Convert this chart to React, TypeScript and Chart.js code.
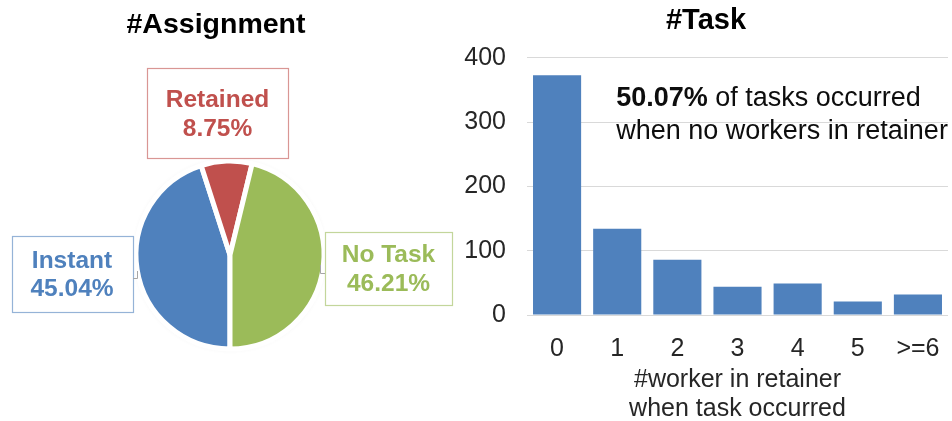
import React, { useEffect, useRef } from "react";
import { Chart, registerables } from "chart.js";

Chart.register(...registerables);

const FONT = "'Liberation Sans', Arial, sans-serif";

// Pie data
const pieLabels = ["Instant", "Retained", "No Task"];
const pieValues = [45.04, 8.75, 46.21];
const pieColors = ["#4F81BD", "#C0504D", "#9BBB59"];
const pieBoxBorders = ["#95B3D7", "#D99694", "#C3D69B"];

// Bar data
const barCategories = ["0", "1", "2", "3", "4", "5", ">=6"];
const barValues = [373, 134, 86, 44, 49, 21, 32];
const yTicks = [0, 100, 200, 300, 400];

const pieTitle = "#Assignment";
const barTitle = "#Task";
const xAxisTitle = ["#worker in retainer", "when task occurred"];
const noteBold = "50.07%";
const noteRest = " of tasks occurred";
const noteLine2 = "when no workers in retainer";

function PieChart() {
  const ref = useRef<HTMLCanvasElement>(null);
  useEffect(() => {
    const haloPlugin = {
      id: "halo",
      beforeDatasetsDraw(chart: any) {
        const arc = chart.getDatasetMeta(0).data[0];
        if (!arc) return;
        const { x, y } = arc;
        const ctx = chart.ctx;
        ctx.save();
        ctx.shadowColor = "rgba(0,0,0,0.35)";
        ctx.shadowBlur = 6;
        ctx.fillStyle = "#ffffff";
        ctx.beginPath();
        ctx.arc(x, y, arc.outerRadius - 2.5, 0, Math.PI * 2);
        ctx.fill();
        ctx.restore();
      },
    };
    const labelPlugin = {
      id: "calloutLabels",
      afterDraw(chart: any) {
        const meta = chart.getDatasetMeta(0);
        const arc = meta.data[0];
        if (!arc) return;
        const cx = arc.x;
        const cy = arc.y;
        const ctx = chart.ctx;
        ctx.save();
        ctx.fillStyle = "#000000";
        ctx.font = `bold 28.5px ${FONT}`;
        ctx.textAlign = "center";
        ctx.textBaseline = "middle";
        ctx.fillText(pieTitle, cx - 14, cy - 230);

        const boxes = [
          { i: 0, l: -218, t: -19, r: -97, b: 57, tx: -158, y1: 6, y2: 34 },
          { i: 1, l: -83, t: -187, r: 58, b: -97, tx: -12.5, y1: -155, y2: -126 },
          { i: 2, l: 95, t: -23, r: 222, b: 50, tx: 158.5, y1: 0, y2: 29 },
        ];
        for (const bx of boxes) {
          ctx.strokeStyle = pieBoxBorders[bx.i];
          ctx.lineWidth = 1.2;
          ctx.fillStyle = "#ffffff";
          ctx.fillRect(cx + bx.l, cy + bx.t, bx.r - bx.l, bx.b - bx.t);
          ctx.strokeRect(cx + bx.l + 0.5, cy + bx.t + 0.5, bx.r - bx.l, bx.b - bx.t);
          ctx.fillStyle = pieColors[bx.i];
          ctx.font = `bold 24.5px ${FONT}`;
          ctx.fillText(pieLabels[bx.i], cx + bx.tx, cy + bx.y1);
          ctx.fillText(pieValues[bx.i].toFixed(2) + "%", cx + bx.tx, cy + bx.y2);
        }
        ctx.lineWidth = 1;
        ctx.strokeStyle = "#A6A6A6";
        ctx.beginPath();
        ctx.moveTo(cx - 97, cy + 23.5);
        ctx.lineTo(cx - 92.5, cy + 23.5);
        ctx.lineTo(cx - 92.5, cy + 16);
        ctx.stroke();
        ctx.beginPath();
        ctx.moveTo(cx + 95, cy + 18.5);
        ctx.lineTo(cx + 90.5, cy + 18.5);
        ctx.lineTo(cx + 90.5, cy + 10);
        ctx.stroke();
        ctx.restore();
      },
    };
    const chart = new Chart(ref.current!, {
      type: "pie",
      data: {
        labels: pieLabels,
        datasets: [
          {
            data: pieValues,
            backgroundColor: pieColors,
            borderColor: "#ffffff",
            borderWidth: 5,
            radius: 94,
          },
        ],
      },
      options: {
        animation: false,
        responsive: false,
        rotation: 180,
        layout: { padding: { top: 89, bottom: 0, left: 0, right: 0 } },
        plugins: {
          legend: { display: false },
          tooltip: { enabled: false },
          title: { display: false },
        },
      },
      plugins: [haloPlugin, labelPlugin],
    });
    return () => chart.destroy();
  }, []);
  return <canvas ref={ref} width={460} height={421} />;
}

function BarChart() {
  const ref = useRef<HTMLCanvasElement>(null);
  useEffect(() => {
    const notePlugin = {
      id: "note",
      afterDraw(chart: any) {
        const xs = chart.scales.x;
        const ys = chart.scales.y;
        const ctx = chart.ctx;
        const x0 = xs.getPixelForValue(1) - 1;
        const y1 = ys.getPixelForValue(337);
        const y2 = ys.getPixelForValue(286);
        ctx.save();
        ctx.fillStyle = "#0d0d0d";
        ctx.textAlign = "left";
        ctx.textBaseline = "middle";
        ctx.font = `bold 27px ${FONT}`;
        ctx.fillText(noteBold, x0, y1);
        const w = ctx.measureText(noteBold).width;
        ctx.font = `27px ${FONT}`;
        ctx.fillText(noteRest, x0 + w, y1);
        ctx.fillText(noteLine2, x0, y2);
        ctx.restore();
      },
    };
    const chart = new Chart(ref.current!, {
      type: "bar",
      data: {
        labels: barCategories,
        datasets: [
          {
            data: barValues,
            backgroundColor: "#4F81BD",
            categoryPercentage: 0.8,
            barPercentage: 1.0,
          },
        ],
      },
      options: {
        animation: false,
        responsive: false,
        layout: { padding: { left: 4, right: 4, top: 0, bottom: -3 } },
        plugins: {
          legend: { display: false },
          tooltip: { enabled: false },
          title: {
            display: true,
            text: barTitle,
            color: "#000000",
            font: { family: FONT, size: 29, weight: "bold" },
            padding: { top: 4, bottom: 19 },
          },
        },
        scales: {
          y: {
            min: 0,
            max: 400,
            afterBuildTicks(scale: any) {
              scale.ticks = yTicks.map((v) => ({ value: v }));
            },
            afterFit(scale: any) {
              scale.width = 63;
            },
            ticks: {
              color: "#262626",
              font: { family: FONT, size: 25 },
              padding: 21,
            },
            grid: { color: "#D9D9D9", drawTicks: false, lineWidth: 1 },
            border: { display: false },
          },
          x: {
            afterFit(scale: any) {
              scale.height = 109;
              scale.paddingLeft = 0;
              scale.paddingRight = 0;
            },
            ticks: {
              color: "#262626",
              font: { family: FONT, size: 25 },
              padding: 19,
              maxRotation: 0,
            },
            grid: { display: false, drawTicks: false },
            border: { display: false },
            title: {
              display: true,
              text: xAxisTitle,
              color: "#262626",
              font: { family: FONT, size: 25, lineHeight: 1.16 },
              padding: { top: 2, bottom: 0 },
            },
          },
        },
      },
      plugins: [notePlugin],
    });
    return () => chart.destroy();
  }, []);
  return <canvas ref={ref} width={492} height={421} />;
}

export default function App() {
  return (
    <div
      style={{
        position: "fixed",
        left: 0,
        top: 0,
        width: 952,
        height: 421,
        background: "#ffffff",
      }}
    >
      <div style={{ position: "absolute", left: 0, top: 0, width: 460, height: 421 }}>
        <PieChart />
      </div>
      <div style={{ position: "absolute", left: 460, top: 0, width: 492, height: 421 }}>
        <BarChart />
      </div>
    </div>
  );
}
